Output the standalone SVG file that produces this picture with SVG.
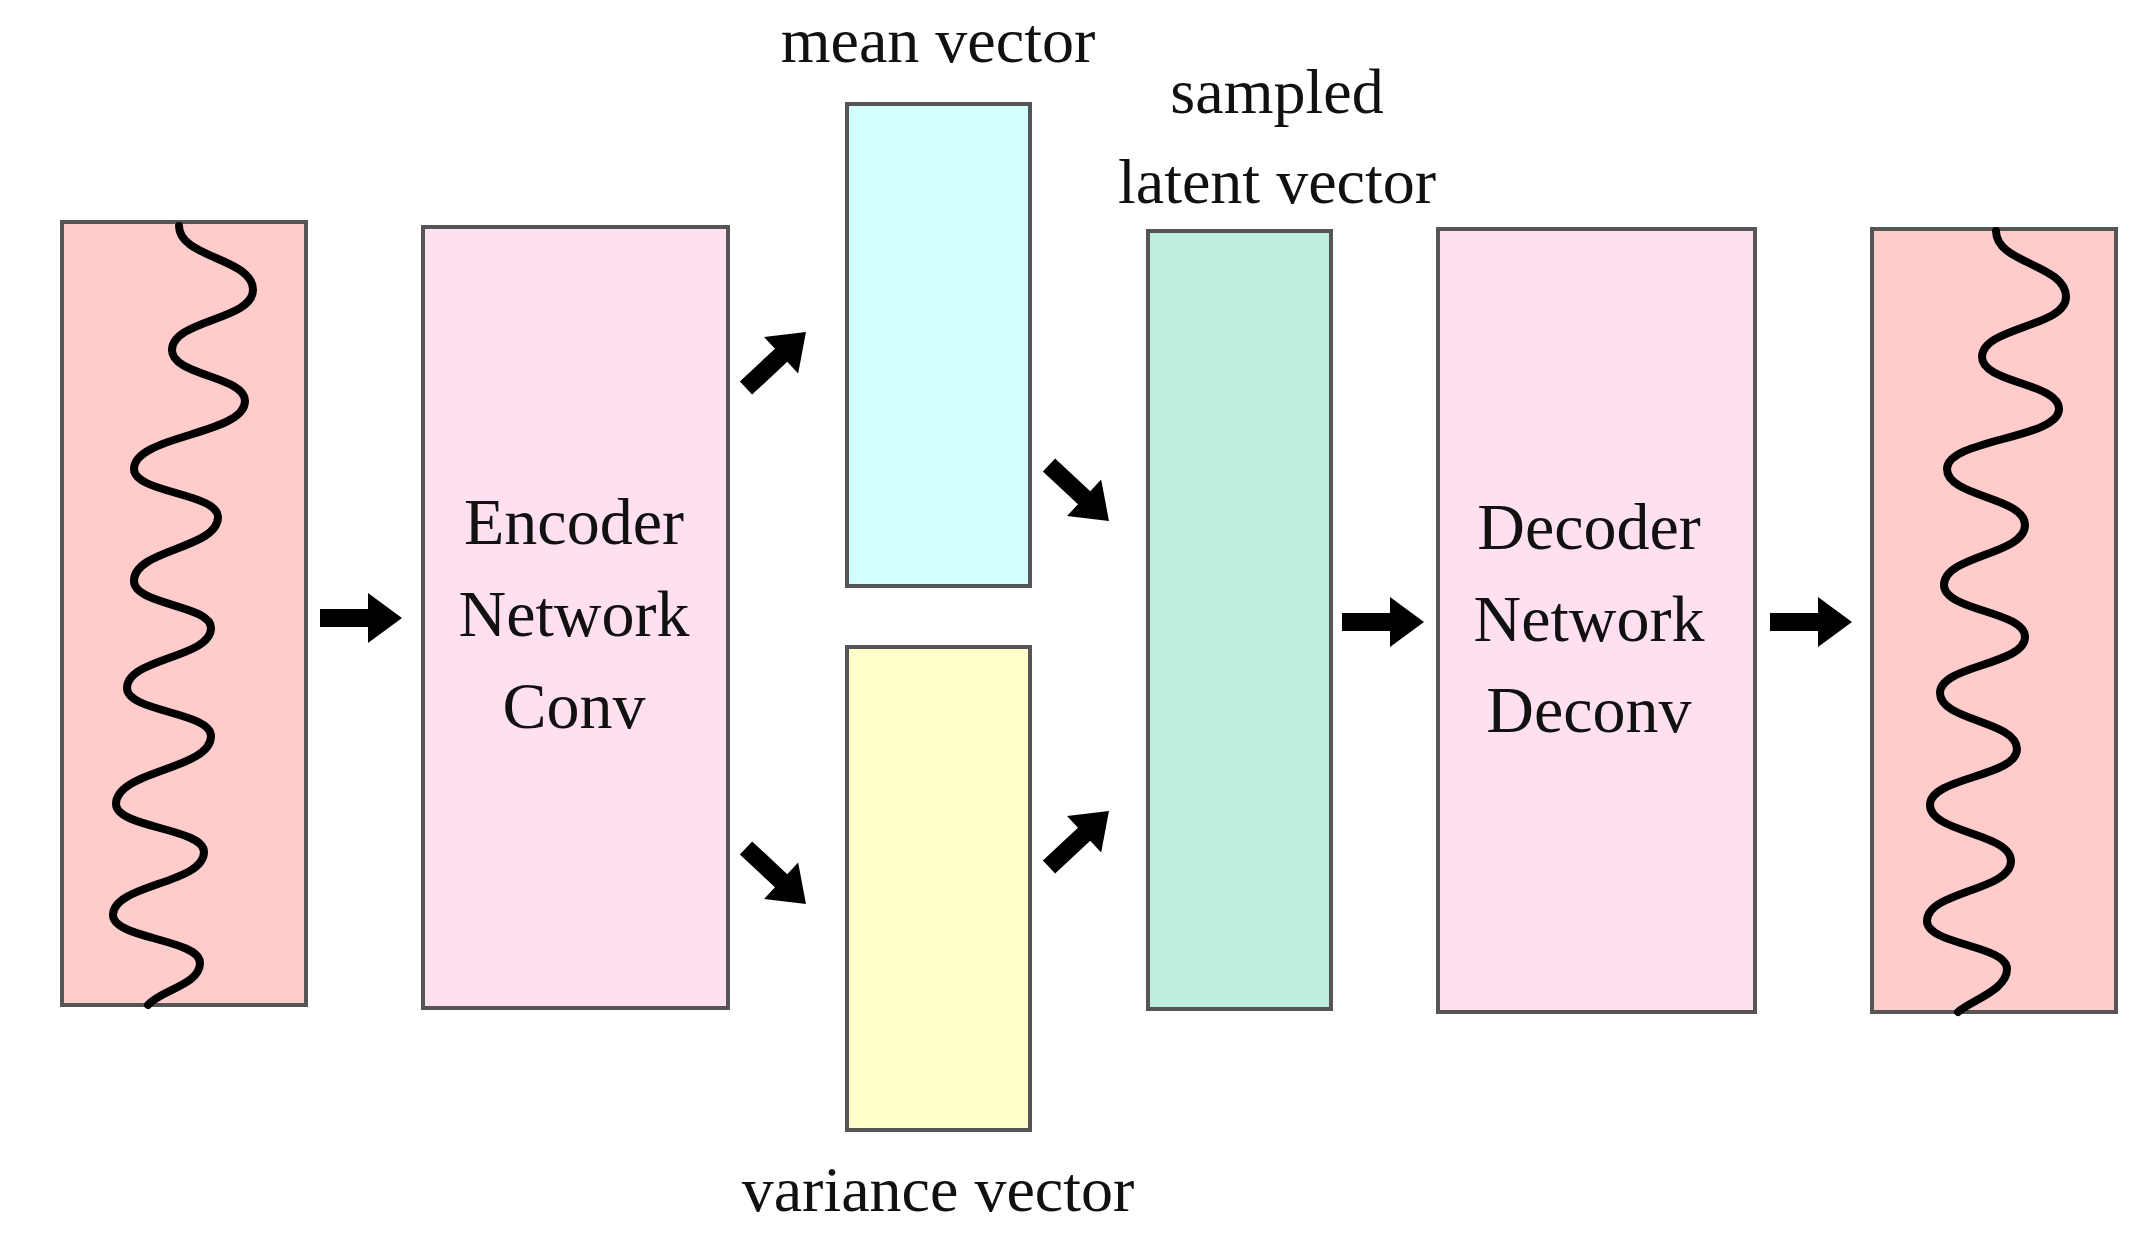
<svg xmlns="http://www.w3.org/2000/svg" width="2141" height="1242" viewBox="0 0 2141 1242">
<style>
.box{stroke:#555;stroke-width:4}
.t{font-family:"Liberation Serif",serif;font-size:66px;fill:#111;text-anchor:middle}
.lbl{font-family:"Liberation Serif",serif;font-size:64px;fill:#111;text-anchor:middle}
.wave{fill:none;stroke:#000;stroke-width:8;stroke-linejoin:round;stroke-linecap:round}
</style>
<defs>
<path id="arr" d="M0,-9 L48,-9 L48,-25 L82,0 L48,25 L48,9 L0,9 Z" fill="#000"/>
</defs>
<rect width="2141" height="1242" fill="#fff"/>
<g id="input">
<rect class="box" x="62" y="222" width="244" height="783" fill="#FFCCCC"/>
<path class="wave" d="M179,226 C179,258 253,258 253,290 C253,320 172,320 172,350 C172,376 245,376 245,401 C245,435 134,435 134,469 C134,493 218,493 218,517 C218,549 134,549 134,581 C134,605 211,605 211,628 C211,658 127,658 127,688 C127,712 211,712 211,736 C211,770 116,770 116,804 C116,828 204,828 204,852 C204,884 113,884 113,915 C113,939 200,939 200,963 C200,985 160,990 148,1005"/>
</g>
<g id="encoder">
<rect class="box" x="423" y="227" width="305" height="781" fill="#FFE0F0"/>
<text class="t" x="574" y="544">Encoder</text>
<text class="t" x="574" y="636">Network</text>
<text class="t" x="574" y="728">Conv</text>
</g>
<g id="mean">
<rect class="box" x="847" y="104" width="183" height="482" fill="#D4FFFF"/>
<text class="lbl" x="938" y="62">mean vector</text>
</g>
<g id="variance">
<rect class="box" x="847" y="647" width="183" height="483" fill="#FFFFCC"/>
<text class="lbl" x="938" y="1211">variance vector</text>
</g>
<g id="latent">
<rect class="box" x="1148" y="231" width="183" height="778" fill="#BDEEDC"/>
<text class="lbl" x="1277" y="113">sampled</text>
<text class="lbl" x="1277" y="203">latent vector</text>
</g>
<g id="decoder">
<rect class="box" x="1438" y="229" width="317" height="783" fill="#FFE0F0"/>
<text class="t" x="1589" y="549">Decoder</text>
<text class="t" x="1589" y="641">Network</text>
<text class="t" x="1589" y="732">Deconv</text>
</g>
<g id="output">
<rect class="box" x="1872" y="229" width="244" height="783" fill="#FFCCCC"/>
<path class="wave" d="M1996,231 C1996,264 2066,264 2066,297 C2066,327 1982,327 1982,357 C1982,383 2059,383 2059,409 C2059,439 1947,439 1947,469 C1947,497 2025,497 2025,525 C2025,555 1944,555 1944,585 C1944,611 2025,611 2025,637 C2025,665 1940,665 1940,693 C1940,721 2017,721 2017,749 C2017,777 1930,777 1930,805 C1930,833 2011,833 2011,861 C2011,891 1927,891 1927,921 C1927,945 2007,945 2007,969 C2007,990 1972,1000 1958,1012"/>
</g>
<g id="connectors">
<use href="#arr" transform="translate(320,618)"/>
<use href="#arr" transform="translate(746,388) rotate(-43)"/>
<use href="#arr" transform="translate(746,848) rotate(43)"/>
<use href="#arr" transform="translate(1049,465) rotate(43)"/>
<use href="#arr" transform="translate(1049,867) rotate(-43)"/>
<use href="#arr" transform="translate(1342,622)"/>
<use href="#arr" transform="translate(1770,622)"/>
</g>
</svg>
